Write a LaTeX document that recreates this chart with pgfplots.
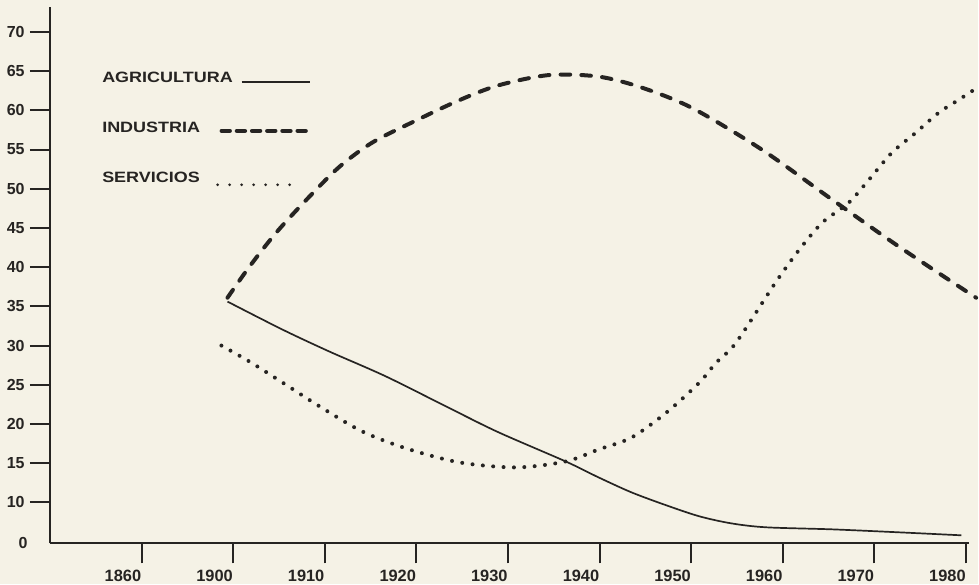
\documentclass[border=0pt]{standalone}
\usepackage{pgfplots}
\pgfplotsset{compat=1.18}
\usepackage{fontspec}
\setmainfont{Liberation Sans}
\usepackage{graphicx}
\definecolor{paper}{RGB}{245,242,230}
\definecolor{ink}{RGB}{38,36,34}
\begin{document}
\begin{tikzpicture}
\fill[paper] (0,0) rectangle (489.5pt,292.5pt);
\begin{axis}[
  at={(25pt,20.5pt)}, anchor=south west,
  scale only axis, width=460pt, height=268.5pt,
  xmin=-1, xmax=9.03, ymin=4.78, ymax=73.18,
  axis lines=left, axis line style={-, line width=1pt, ink},
  tick align=outside, major tick length=10pt, tick style={line width=1pt, ink},
  xtick={0,...,9},
  xticklabels={1860,1900,1910,1920,1930,1940,1950,1960,1970,1980},
  ytick={10,15,...,70},
  extra y ticks={4.78}, extra y tick labels={0},
  extra y tick style={major tick length=0pt, yticklabel style={xshift=-8.5pt}},
  /pgf/number format/assume math mode=true,
  xticklabel style={font=\fontsize{8.2}{9}\selectfont\bfseries, anchor=north east, inner sep=0pt, yshift=-3pt, text=ink},
  yticklabel style={font=\fontsize{8}{9}\selectfont\bfseries, anchor=east, inner sep=0pt, xshift=-2.5pt, text=ink},
  clip=false,
]
% AGRICULTURA
\addplot[ink, line width=0.85pt, smooth] coordinates {
(0.938,35.61) (1.538,32.04) (2.05,29.24) (2.67,26.05) (3.39,21.85) (3.90,18.92)
(4.63,15.22) (4.99,13.18) (5.35,11.27) (5.73,9.62) (6.09,8.22) (6.44,7.32)
(6.82,6.82) (7.54,6.56) (8.27,6.18) (8.95,5.80)};
% INDUSTRIA
\addplot[ink, line width=2pt, line cap=round, dash pattern=on 4.8pt off 5.6pt, smooth] coordinates {
(0.938,36.1) (1.18,40.1) (1.47,44.4) (1.80,48.6) (2.16,52.8) (2.52,55.9)
(2.96,58.5) (3.47,61.3) (3.90,63.2) (4.45,64.5) (4.99,64.3) (5.46,62.9)
(6.01,60.3) (6.77,55.0) (7.54,48.6) (8.27,42.6) (9.11,36.1)};
% SERVICIOS
\addplot[ink, line width=2pt, line cap=round, dash pattern=on 0pt off 5.2pt, smooth] coordinates {
(0.872,30.0) (1.178,27.96) (1.538,25.29) (1.963,22.10) (2.41,19.04) (2.89,16.88)
(3.47,15.10) (4.09,14.46) (4.63,15.22) (4.99,16.75) (5.35,18.28) (5.73,21.46)
(6.09,25.29) (6.27,27.8) (6.49,30.38) (6.92,38.03) (7.18,42.23) (7.43,45.67)
(7.72,48.22) (7.94,51.15) (8.19,54.59) (8.45,57.13) (8.70,59.68) (8.92,61.34) (9.12,62.87)};
% legend
\node[anchor=west, inner sep=0pt, text=ink] at (axis description cs:0.0565,0.868)
  {\fontsize{7.5}{9}\selectfont\bfseries\scalebox{1.2}[1]{AGRICULTURA}};
\node[anchor=west, inner sep=0pt, text=ink] at (axis description cs:0.0565,0.7765)
  {\fontsize{7.5}{9}\selectfont\bfseries\scalebox{1.2}[1]{INDUSTRIA}};
\node[anchor=west, inner sep=0pt, text=ink] at (axis description cs:0.0565,0.6816)
  {\fontsize{7.5}{9}\selectfont\bfseries\scalebox{1.2}[1]{SERVICIOS}};
\draw[ink, line width=0.85pt] (axis description cs:0.2087,0.8603) -- (axis description cs:0.2826,0.8603);
\draw[ink, line width=2.2pt, line cap=round, dash pattern=on 4pt off 3.6pt]
  (axis description cs:0.1870,0.769) -- (axis description cs:0.2848,0.769);
\draw[ink, line width=1.5pt, line cap=round, dash pattern=on 0pt off 6pt]
  (axis description cs:0.1826,0.6685) -- (axis description cs:0.2739,0.6685);
\end{axis}
\end{tikzpicture}
\end{document}
